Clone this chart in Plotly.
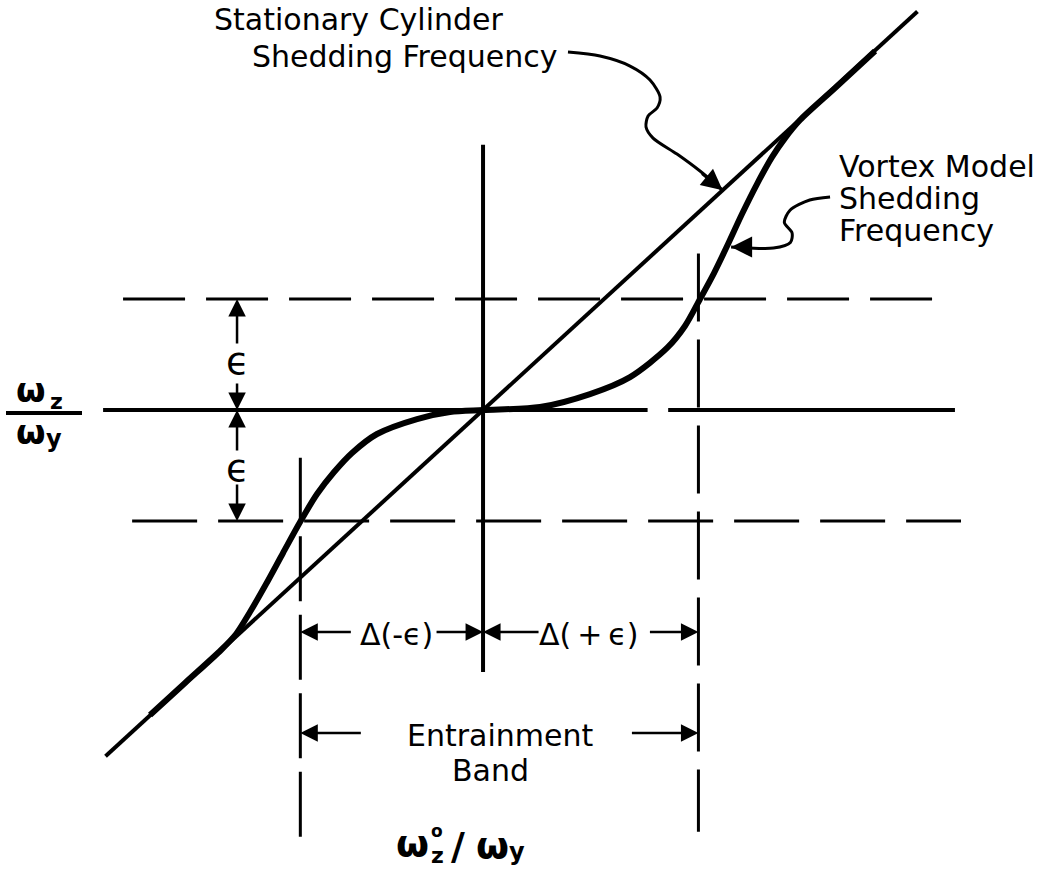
import plotly.graph_objects as go

W, H = 1048, 870

# ---- data (x: omega_z0/omega_y offset, y: omega_z/omega_y offset; y unit = epsilon) ----
epsilon = 1.0
delta_minus = -1.51          # Δ(-ε)
delta_plus = 1.78            # Δ(+ε)

stationary_x = [-3.12, 3.59]
stationary_y = [-3.12, 3.59]

vortex_x = [-2.752, -2.463, -2.165, -2.041, -1.926, -1.793, -1.653, -1.512, -1.372, -1.231,
            -1.083, -0.876, -0.545, -0.273, 0.0, 0.471, 0.884, 1.215, 1.521, 1.669,
            1.793, 1.909, 2.017, 2.140, 2.264, 2.388, 2.496, 2.620, 2.909, 3.240]
vortex_y = [-2.748, -2.459, -2.162, -2.018, -1.820, -1.568, -1.288, -1.009, -0.757, -0.559,
            -0.387, -0.216, -0.081, -0.018, 0.0, 0.027, 0.144, 0.297, 0.559, 0.757,
            1.000, 1.234, 1.477, 1.766, 2.036, 2.279, 2.450, 2.613, 2.901, 3.234]

leader_stationary_x = [0.702, 0.967, 1.215, 1.380, 1.463, 1.438, 1.364, 1.347, 1.405, 1.603, 1.793, 1.98]
leader_stationary_y = [3.225, 3.189, 3.099, 2.973, 2.820, 2.721, 2.649, 2.550, 2.450, 2.306, 2.153, 1.98]

leader_vortex_x = [2.868, 2.70, 2.537, 2.490, 2.554, 2.540, 2.400, 2.200, 2.05]
leader_vortex_y = [1.919, 1.892, 1.800, 1.690, 1.595, 1.510, 1.459, 1.459, 1.468]

# ---- frame ----
X_RANGE = [-3.992, 4.669]
Y_RANGE = [-4.144, 3.694]

axis_h_segments = [(-3.14, 1.36), (1.53, 3.90)]
band_upper_x = (-2.975, 3.83)
band_lower_x = (-2.90, 3.95)
axis_v_y = (2.39, -2.36)
left_v_y = (-0.43, -3.85)
right_v_y = (1.41, -3.80)
eps_arrow_x = -2.033
delta_arrow_y = -2.0
band_arrow_y = -2.91

FONT = "DejaVu Sans"

fig = go.Figure()


def line(x, y, width, dash="solid", shape="linear"):
    fig.add_trace(go.Scatter(
        x=list(x), y=list(y), mode="lines",
        line=dict(color="black", width=width, dash=dash, shape=shape, smoothing=0.8),
        hoverinfo="skip", showlegend=False))


# reference lines
for x0, x1 in axis_h_segments:
    line([x0, x1], [0, 0], 4)
line([0, 0], axis_v_y, 4)
line(band_upper_x, [epsilon, epsilon], 3, dash="62px,21px")
line(band_lower_x, [-epsilon, -epsilon], 3, dash="65px,21px")
line([delta_minus, delta_minus], left_v_y, 3, dash="65px,13.5px")
line([delta_plus, delta_plus], right_v_y, 3, dash="68px,18px")

# stationary cylinder frequency (diagonal) and vortex model curve
line(stationary_x, stationary_y, 4)
line(vortex_x, vortex_y, 6, shape="spline")

# leader curves
line(leader_stationary_x, leader_stationary_y, 3, shape="spline")
line(leader_vortex_x, leader_vortex_y, 3, shape="spline")


def arrow(x, y, ax, ay, width=2.5):
    fig.add_annotation(x=x, y=y, xref="x", yref="y", ax=ax, ay=ay,
                       text="", showarrow=True, arrowhead=2, arrowsize=1.4,
                       arrowwidth=width, arrowcolor="black")


arrow(leader_stationary_x[-1], leader_stationary_y[-1], -22, -18, 3)
arrow(leader_vortex_x[-1], leader_vortex_y[-1], 18, 0, 3)

# epsilon dimension arrows
arrow(eps_arrow_x, epsilon, 0, 46)
arrow(eps_arrow_x, 0, 0, -28)
arrow(eps_arrow_x, 0, 0, 42)
arrow(eps_arrow_x, -epsilon, 0, -38)

# delta dimension arrows
arrow(delta_minus, delta_arrow_y, 52, 0)
arrow(0, delta_arrow_y, -48, 0)
arrow(0, delta_arrow_y, 57, 0)
arrow(delta_plus, delta_arrow_y, -50, 0)

# entrainment band arrows
arrow(delta_minus, band_arrow_y, 62, 0)
arrow(delta_plus, band_arrow_y, -68, 0)


def label(text, px, py, size=30, anchor="left"):
    fig.add_annotation(x=px / W, y=1 - py / H, xref="paper", yref="paper",
                       text=text, showarrow=False, xanchor=anchor, yanchor="middle",
                       font=dict(family=FONT, size=size, color="black"))


label("Stationary Cylinder", 212, 20)
label("Shedding Frequency", 250, 56)
label("Vortex Model", 837, 166)
label("Shedding", 837, 199)
label("Frequency", 837, 231)

label("ϵ", 237, 361, 38, "center")
label("ϵ", 237, 468, 38, "center")
label("Δ(-ϵ)", 396, 634, 30, "center")
label("Δ(\u2009+\u2009ϵ)", 589, 634, 30, "center")
label("Entrainment", 500, 735, 30, "center")
label("Band", 490, 770, 30, "center")

# vertical-axis label  ω_z / ω_y
label("<b>ω</b>", 31, 390, 34, "center")
label("<b>z</b>", 56, 401, 22, "center")
label("<b>ω</b>", 31, 432, 34, "center")
label("<b>y</b>", 54, 439, 24, "center")
fig.add_shape(type="line", xref="paper", yref="paper",
              x0=6 / W, x1=82 / W, y0=1 - 413 / H, y1=1 - 413 / H,
              line=dict(color="black", width=4))

# horizontal-axis label  ω_z° / ω_y
label("<b>ω</b>", 412, 843, 38, "center")
label("<b>o</b>", 437, 831, 17, "center")
label("<b>z</b>", 437, 855, 22, "center")
label("<b>/</b>", 458, 846, 38, "center")
label("<b>ω</b>", 492, 845, 38, "center")
label("<b>y</b>", 517, 852, 24, "center")

fig.update_layout(
    width=W, height=H,
    margin=dict(l=0, r=0, t=0, b=0),
    paper_bgcolor="white", plot_bgcolor="white",
    xaxis=dict(range=X_RANGE, visible=False, fixedrange=True),
    yaxis=dict(range=Y_RANGE, visible=False, fixedrange=True),
    showlegend=False,
)

fig.write_html("out.html")
